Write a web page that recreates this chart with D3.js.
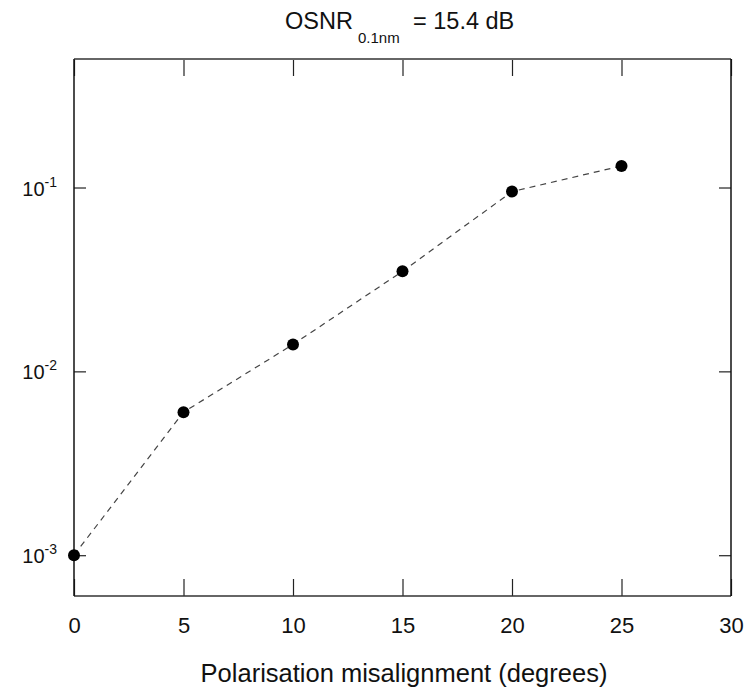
<!DOCTYPE html>
<html>
<head>
<meta charset="utf-8">
<script src="https://cdn.jsdelivr.net/npm/d3@7"></script>
<style>
  body { margin: 0; background: #fff; }
  text { font-family: 'Liberation Sans', Arial, sans-serif; fill: #111; }
</style>
</head>
<body>
<div id="graf"></div>
<script>
// Datos
angulos = [0, 5, 10, 15, 20, 25]
ber     = [1e-3, 6e-3, 1.4e-2, 3.5e-2, 9.5e-2, 0.131]
xTicks  = [0, 5, 10, 15, 20, 25, 30]
yTicks  = [1e-3, 1e-2, 1e-1]
yExpon  = ['-3', '-2', '-1']

ancho_total = 755
alto_total  = 687
margins = { top: 59, left: 74, right: 24, bottom: 91 }
ancho = ancho_total - margins.left - margins.right
alto  = alto_total - margins.top - margins.bottom

svg = d3.select('#graf').append('svg')
        .attr('width', ancho_total)
        .attr('height', alto_total)

g = svg.append('g')
        .attr('transform', `translate(${margins.left}, ${margins.top})`)

// Escaladores
x = d3.scaleLinear().domain([0, 30]).range([0, ancho])
y = d3.scaleLog().domain([6e-4, 0.5]).range([alto, 0])

// Ejes (ticks hacia adentro)
xAxisB = d3.axisBottom(x).tickValues(xTicks).tickSize(-17).tickFormat(d3.format('d'))
xAxisT = d3.axisTop(x).tickValues(xTicks).tickSize(-17).tickFormat('')
yAxisL = d3.axisLeft(y).tickValues(yTicks).tickSize(-12).tickFormat('')
yAxisR = d3.axisRight(y).tickValues(yTicks).tickSize(-12).tickFormat('')

gb = g.append('g').attr('transform', `translate(0,${alto})`).call(xAxisB)
gt = g.append('g').call(xAxisT)
gl = g.append('g').call(yAxisL)
gr = g.append('g').attr('transform', `translate(${ancho},0)`).call(yAxisR)

;[gb, gt, gl, gr].forEach(a => {
  a.select('.domain').remove()
  a.selectAll('.tick line').attr('stroke', '#222').attr('stroke-width', 1.2)
})

gb.selectAll('.tick text')
  .attr('y', 37).attr('dy', 0)
  .attr('font-size', '22px')
  .attr('font-family', "'Liberation Sans', Arial, sans-serif")
  .attr('fill', '#111')

// Etiquetas del eje y: 10^n
yTicks.forEach((d, i) => {
  t = g.append('text')
        .attr('x', -17)
        .attr('y', y(d) + 8)
        .attr('text-anchor', 'end')
        .attr('font-size', '20px')
  t.append('tspan').text('10')
  t.append('tspan').attr('dy', -9).attr('font-size', '14px').text(yExpon[i])
})

// Marco
g.append('line').attr('x1', 0).attr('x2', ancho).attr('y1', 0).attr('y2', 0)
  .attr('stroke', '#666').attr('stroke-width', 2)
g.append('line').attr('x1', 0).attr('x2', ancho).attr('y1', alto).attr('y2', alto)
  .attr('stroke', '#333').attr('stroke-width', 1.3)
g.append('line').attr('x1', 0).attr('x2', 0).attr('y1', 0).attr('y2', alto)
  .attr('stroke', '#111').attr('stroke-width', 1.5)
g.append('line').attr('x1', ancho).attr('x2', ancho).attr('y1', 0).attr('y2', alto)
  .attr('stroke', '#111').attr('stroke-width', 1.5)

// Curva
datos = angulos.map((a, i) => ({ a: a, b: ber[i] }))

linea = d3.line().x(d => x(d.a)).y(d => y(d.b))

g.append('path')
  .datum(datos)
  .attr('d', linea)
  .attr('fill', 'none')
  .attr('stroke', '#444')
  .attr('stroke-width', 1.2)
  .attr('stroke-dasharray', '6,5')

g.selectAll('circle')
  .data(datos)
  .enter()
  .append('circle')
    .attr('cx', d => x(d.a))
    .attr('cy', d => y(d.b))
    .attr('r', 6)
    .attr('fill', '#000')

// Titulo
tit = svg.append('text')
          .attr('x', 285)
          .attr('y', 29)
          .attr('font-size', '23.5px')
tit.append('tspan').text('OSNR')
tit.append('tspan').attr('x', 358).attr('y', 43).attr('font-size', '15px').text('0.1nm')
tit.append('tspan').attr('x', 413).attr('y', 29).text('= 15.4 dB')

// Etiqueta eje x
svg.append('text')
  .attr('x', 404)
  .attr('y', 682)
  .attr('text-anchor', 'middle')
  .attr('font-size', '25.5px')
  .text('Polarisation misalignment (degrees)')
</script>
</body>
</html>
